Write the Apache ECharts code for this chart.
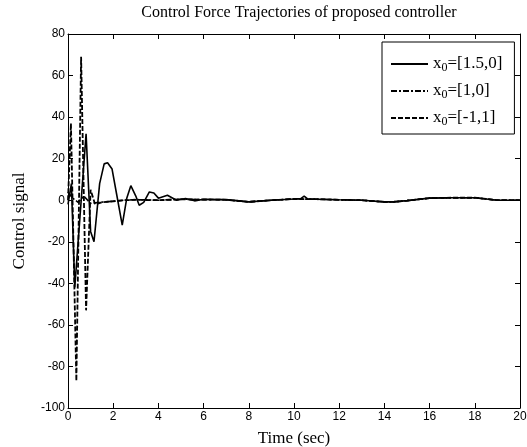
<!DOCTYPE html>
<html>
<head>
<meta charset="utf-8">
<script src="https://cdn.jsdelivr.net/npm/echarts@6/dist/echarts.min.js"></script>
<style>html,body{margin:0;padding:0;background:#fff}#c{width:527px;height:447px}</style>
</head>
<body>
<div id="c"></div>
<script>
const titleText = 'Control Force Trajectories of proposed controller';
const xName = 'Time (sec)';
const yName = 'Control signal';
const xTicks = [0, 20, 2];
const yTicks = [-100, 80, 20];
const seriesNames = ['x0=[1.5,0]', 'x0=[1,0]', 'x0=[-1,1]'];

const tSolid = [0, 0.15, 0.3, 0.55, 0.8, 1.0, 1.15, 1.4, 1.6, 1.75, 1.95, 2.15, 2.4, 2.6, 2.78, 3.0, 3.15, 3.35, 3.6, 3.8, 4.0, 4.4, 4.8, 5.2, 5.6, 6, 7, 8, 9, 10, 10.3, 10.45, 10.6, 11, 12, 13, 14, 14.4, 15, 16, 17, 18, 19, 20];
const ySolid = [-2, 8, -42, -5, 32, -15, -20, 8, 17.5, 18, 15, 3, -12, 1, 7, 2, -2.4, -1, 4, 3.5, 1, 2.4, 0, 0.8, -0.3, 0.5, 0.3, -0.8, 0, 0.6, 0.8, 2, 0.6, 0.5, 0.2, 0, -0.8, -0.8, -0.2, 1, 1.2, 1.2, 0, 0];

const tDashDot = [0, 0.2, 0.45, 0.7, 1.0, 1.4, 2.0, 2.5, 3.0, 4.0, 5.0, 6, 7, 8, 9, 10, 11, 12, 13, 14, 14.4, 15, 16, 17, 18, 19, 20];
const yDashDot = [4, 1, -1, 2, -1.5, -1, -0.5, 0, 0.3, 0, 0.5, 0.3, 0.2, -0.8, 0, 0.6, 0.5, 0.2, 0, -0.8, -0.8, -0.2, 1, 1.2, 1.2, 0, 0];

const tDashed = [0, 0.13, 0.37, 0.58, 0.8, 1.0, 1.2, 1.5, 2.0, 2.5, 3.0, 4.0, 5.0, 6, 7, 8, 9, 10, 11, 12, 13, 14, 14.4, 15, 16, 17, 18, 19, 20];
const yDashed = [0, 37, -87, 69, -53, 5, -2, -1, -0.5, 0, 0.2, 0, 0.4, 0.3, 0.2, -0.8, 0, 0.6, 0.5, 0.2, 0, -0.8, -0.8, -0.2, 1, 1.2, 1.2, 0, 0];

const serif = 'Liberation Serif';
const sans = 'Liberation Sans';

function pairs(ts, ys) { return ts.map((t, i) => [t, ys[i]]); }

const chart = echarts.init(document.getElementById('c'));
const axisBase = {
  axisLine: { show: true, onZero: false, lineStyle: { color: '#000', width: 1 } },
  axisTick: { show: true, inside: true, length: 5, lineStyle: { color: '#000' } },
  splitLine: { show: false }
};
chart.setOption({
  animation: false,
  backgroundColor: '#fff',
  title: {
    text: titleText, left: 294, top: 0, textAlign: 'center',
    textStyle: { fontFamily: serif, fontSize: 16, fontWeight: 'normal', color: '#000' }
  },
  grid: { left: 68, right: 7, top: 34, bottom: 39, containLabel: false, outerBoundsMode: 'none' },
  legend: {
    orient: 'vertical', left: 382, top: 42,
    padding: [12, 12, 6, 8], itemGap: 7, itemWidth: 37, itemHeight: 18,
    borderColor: '#000', borderWidth: 1, backgroundColor: '#fff', borderRadius: 0,
    data: seriesNames,
    itemStyle: { color: 'rgba(0,0,0,0)', borderWidth: 0, opacity: 0 },
    formatter: n => n.replace('x0', 'x{sub|0}'),
    textStyle: {
      fontFamily: serif, fontSize: 17, color: '#000', lineHeight: 18,
      rich: { sub: { fontFamily: serif, fontSize: 12, color: '#000', lineHeight: 18, padding: [8, 0, 0, 0] } }
    }
  },
  xAxis: [
    Object.assign({}, axisBase, {
      type: 'value', min: xTicks[0], max: xTicks[1], interval: xTicks[2], position: 'bottom',
      name: xName, nameLocation: 'middle', nameGap: 22,
      nameTextStyle: { fontFamily: serif, fontSize: 17, color: '#000' },
      axisLabel: { fontFamily: sans, fontSize: 12, color: '#000', margin: 3 }
    }),
    Object.assign({}, axisBase, {
      type: 'value', min: xTicks[0], max: xTicks[1], interval: xTicks[2], position: 'top',
      axisLabel: { show: false }
    })
  ],
  yAxis: [
    Object.assign({}, axisBase, {
      type: 'value', min: yTicks[0], max: yTicks[1], interval: yTicks[2], position: 'left',
      name: yName, nameLocation: 'middle', nameGap: 40,
      nameTextStyle: { fontFamily: serif, fontSize: 17, color: '#000' },
      axisLabel: { fontFamily: sans, fontSize: 12, color: '#000', margin: 3 }
    }),
    Object.assign({}, axisBase, {
      type: 'value', min: yTicks[0], max: yTicks[1], interval: yTicks[2], position: 'right',
      axisLabel: { show: false }
    })
  ],
  series: [
    { name: seriesNames[0], type: 'line', data: pairs(tSolid, ySolid), symbol: 'none',
      lineStyle: { color: '#000', width: 1.6, type: 'solid' }, itemStyle: { color: '#000' } },
    { name: seriesNames[1], type: 'line', data: pairs(tDashDot, yDashDot), symbol: 'none',
      lineStyle: { color: '#000', width: 1.6, type: [6, 2, 2, 2] }, itemStyle: { color: '#000' } },
    { name: seriesNames[2], type: 'line', data: pairs(tDashed, yDashed), symbol: 'none',
      lineStyle: { color: '#000', width: 1.8, type: [5, 2] }, itemStyle: { color: '#000' } }
  ]
});
</script>
</body>
</html>
